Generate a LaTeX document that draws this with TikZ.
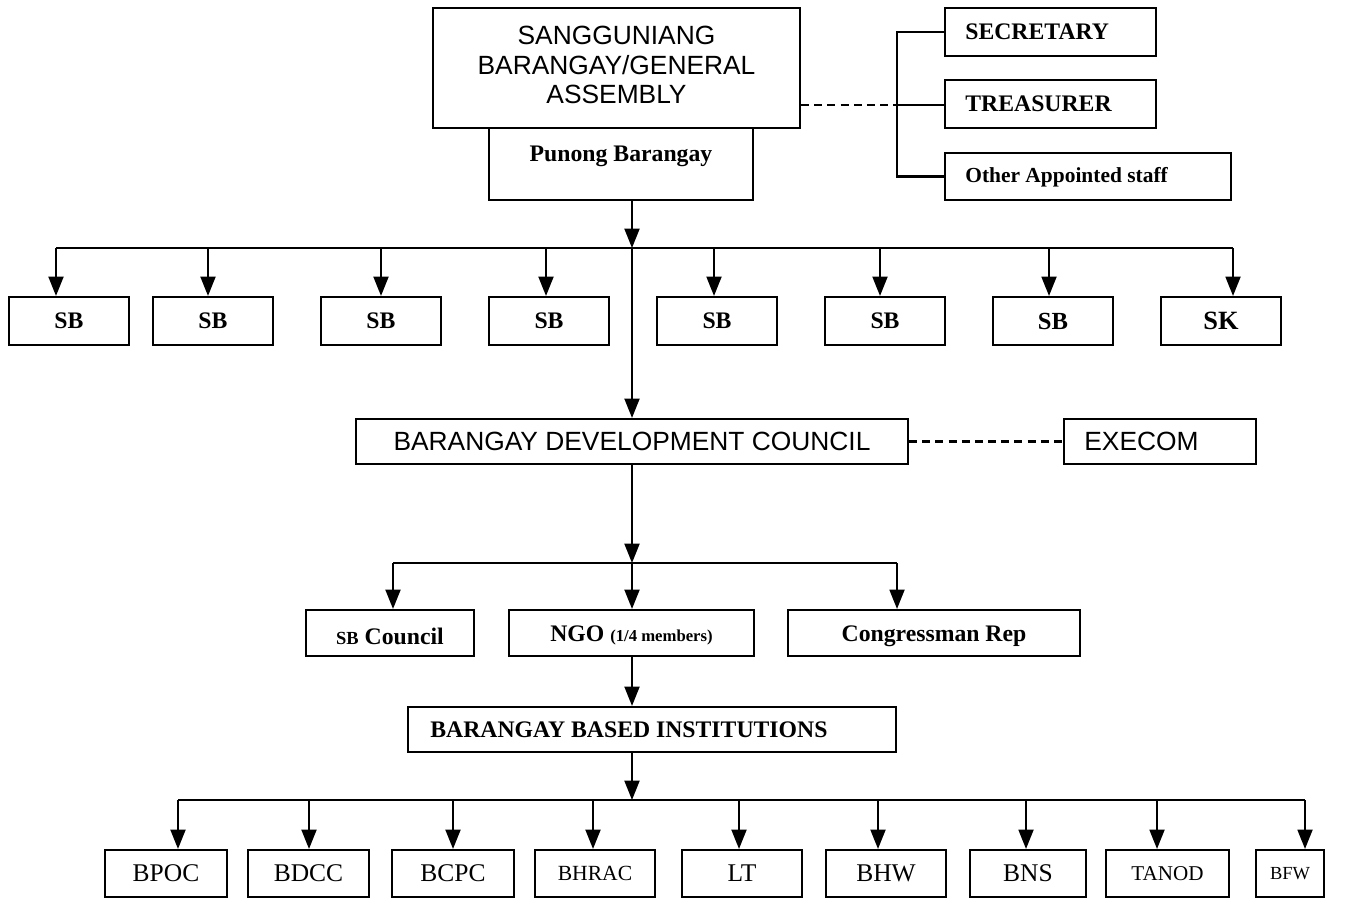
\documentclass[tikz,border=0pt]{standalone}
\usepackage{fontspec}
\setmainfont{Liberation Serif}
\newfontfamily\ari{Liberation Sans}
\usetikzlibrary{arrows.meta,fit}
\tikzset{
 bx/.style={draw, line width=1.2pt, inner sep=0pt},
 txt/.style={inner sep=0pt},
 arr/.style={line width=1.2pt, -{Triangle[length=11pt,width=8.5pt]}},
 ln/.style={line width=1.2pt},
 dsh/.style={line width=1.2pt, dash pattern=on 4.5pt off 3pt},
 tb/.style={font=\bfseries\fontsize{13.5}{16}\selectfont},
 tr/.style={font=\fontsize{14.5}{17}\selectfont},
 sa/.style={font=\ari\fontsize{15}{16.7}\selectfont},
}
\newcommand\mkbox[7]{\node[bx,fit={(#2,#3) (#4,#5)}] (#1) {};
  \node[txt,#6] (#1t) at (#1.center) {#7};}
\begin{document}
\begin{tikzpicture}[x=0.02cm,y=-0.02cm]
\useasboundingbox (0,0) rectangle (1352,899);
% top
\mkbox{sga}{433}{8}{800}{128}{sa,align=center,yshift=1.7pt}{SANGGUNIANG\\BARANGAY/GENERAL\\ASSEMBLY}
\node[bx,fit={(489,128) (753,200)}] (pun) {};
\node[txt,tb] (punt) at (621,156) {Punong Barangay};
\node[bx,fit={(945,8) (1156,56)}] (sec) {};
\node[txt,tb,anchor=west] (sect) at (965,32) {SECRETARY};
\node[bx,fit={(945,80) (1156,128)}] (tre) {};
\node[txt,tb,anchor=west] (tret) at (965,104) {TREASURER};
\node[bx,fit={(945,153) (1231,200)}] (oth) {};
\node[txt,anchor=west,font=\bfseries\fontsize{12.2}{14}\selectfont] (otht) at (965,177) {Other Appointed staff};
\coordinate (br) at (897,105);
\draw[dsh] (sga.east |- br) -- (br);
\draw[ln] (sec.west) -| (br) |- (oth.west);
\draw[ln] (br) -- (br -| tre.west);
% SB row
\mkbox{sb1}{9}{297}{129}{345}{tb}{SB}
\mkbox{sb2}{153}{297}{273}{345}{tb}{SB}
\mkbox{sb3}{321}{297}{441}{345}{tb}{SB}
\mkbox{sb4}{489}{297}{609}{345}{tb}{SB}
\mkbox{sb5}{657}{297}{777}{345}{tb}{SB}
\mkbox{sb6}{825}{297}{945}{345}{tb}{SB}
\mkbox{sb7}{993}{297}{1113}{345}{font=\bfseries\fontsize{14}{16}\selectfont}{SB}
\mkbox{sk}{1161}{297}{1281}{345}{font=\bfseries\fontsize{15}{17}\selectfont}{SK}
\coordinate (h1) at (632,248);
\coordinate (a1) at (56,248);
\coordinate (a2) at (208,248);
\coordinate (a3) at (381,248);
\coordinate (a4) at (546,248);
\coordinate (a5) at (714,248);
\coordinate (a6) at (880,248);
\coordinate (a7) at (1049,248);
\coordinate (a8) at (1233,248);
\draw[arr] (h1 |- pun.south) -- (h1);
\draw[ln] (a1) -- (a8);
\foreach \a/\b in {a1/sb1,a2/sb2,a3/sb3,a4/sb4,a5/sb5,a6/sb6,a7/sb7,a8/sk}
  \draw[arr] (\a) -- (\a |- \b.north);
% BDC
\mkbox{bdc}{356}{419}{908}{464}{sa}{BARANGAY DEVELOPMENT COUNCIL}
\node[bx,fit={(1064,419) (1256,464)}] (exe) {};
\node[txt,sa,anchor=west] (exet) at (1084,441) {EXECOM};
\draw[arr] (h1) -- (h1 |- bdc.north);
\draw[dsh] (bdc.east) -- (exe.west);
% row 3
\mkbox{sbc}{306}{610}{474}{656}{tb,yshift=-1.7pt}{{\fontsize{10.5}{12}\selectfont SB} Council}
\mkbox{ngo}{509}{610}{754}{656}{tb,yshift=-1.2pt}{NGO {\fontsize{9.5}{11}\selectfont (1/4 members)}}
\mkbox{con}{788}{610}{1080}{656}{tb,yshift=-1.7pt}{Congressman Rep}
\coordinate (h2) at (632,563);
\coordinate (c1) at (393,563);
\coordinate (c3) at (897,563);
\draw[arr] (h2 |- bdc.south) -- (h2);
\draw[ln] (c1) -- (c3);
\draw[arr] (c1) -- (c1 |- sbc.north);
\draw[arr] (h2) -- (h2 |- ngo.north);
\draw[arr] (c3) -- (c3 |- con.north);
% BBI
\node[bx,fit={(408,707) (896,752)}] (bbi) {};
\node[txt,tb,anchor=west] (bbit) at (430,730) {BARANGAY BASED INSTITUTIONS};
\draw[arr] (h2 |- ngo.south) -- (h2 |- bbi.north);
% bottom row
\mkbox{bpoc}{105}{850}{227}{897}{tr}{BPOC}
\mkbox{bdcc}{248}{850}{369}{897}{tr}{BDCC}
\mkbox{bcpc}{392}{850}{514}{897}{tr}{BCPC}
\mkbox{bhrac}{535}{850}{655}{897}{font=\fontsize{12.3}{14}\selectfont}{BHRAC}
\mkbox{lt}{682}{850}{802}{897}{tr}{LT}
\mkbox{bhw}{826}{850}{946}{897}{tr}{BHW}
\mkbox{bns}{970}{850}{1086}{897}{tr}{BNS}
\mkbox{tanod}{1106}{850}{1229}{897}{font=\fontsize{12}{14}\selectfont}{TANOD}
\mkbox{bfw}{1256}{850}{1324}{897}{font=\fontsize{10.5}{12}\selectfont}{BFW}
\coordinate (h3) at (632,800);
\coordinate (d1) at (178,800);
\coordinate (d2) at (309,800);
\coordinate (d3) at (453,800);
\coordinate (d4) at (593,800);
\coordinate (d5) at (739,800);
\coordinate (d6) at (878,800);
\coordinate (d7) at (1026,800);
\coordinate (d8) at (1157,800);
\coordinate (d9) at (1305,800);
\draw[arr] (h3 |- bbi.south) -- (h3);
\draw[ln] (d1) -- (d9);
\foreach \a/\b in {d1/bpoc,d2/bdcc,d3/bcpc,d4/bhrac,d5/lt,d6/bhw,d7/bns,d8/tanod,d9/bfw}
  \draw[arr] (\a) -- (\a |- \b.north);
\end{tikzpicture}
\end{document}
